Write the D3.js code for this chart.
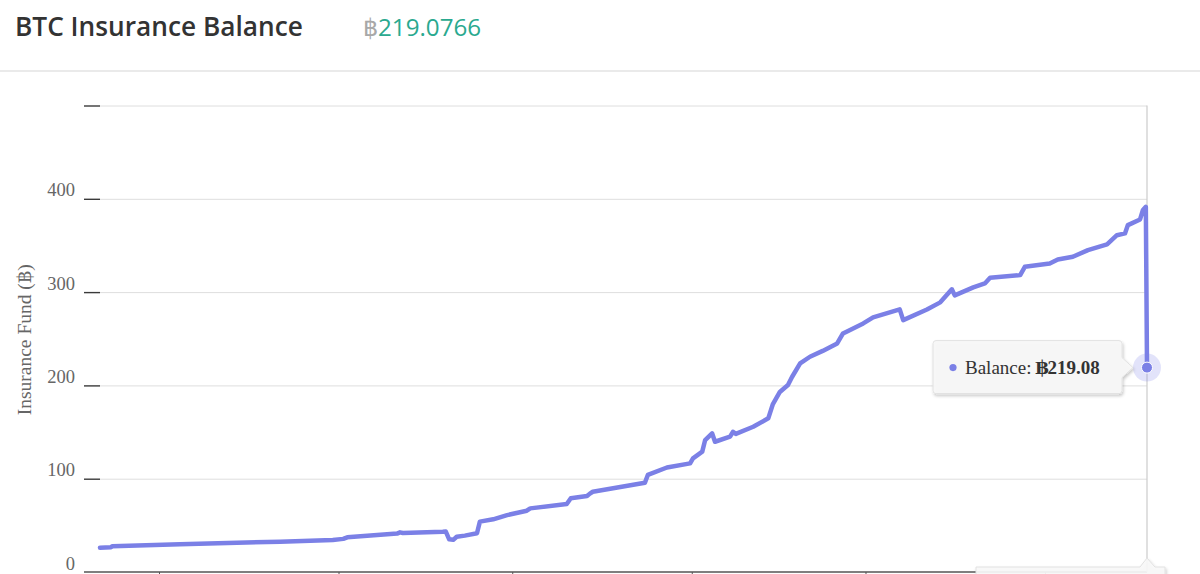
<!DOCTYPE html>
<html>
<head>
<meta charset="utf-8">
<script src="https://cdn.jsdelivr.net/npm/d3@7"></script>
<style>
  html, body { margin: 0; padding: 0; background: #fff; overflow: hidden; }
  #vis svg { display: block; }
</style>
</head>
<body>
<div id="vis"></div>
<script>
//Chart values
var startDate = new Date(2016, 1, 19, 19, 30);
var dayOffsets = [0, 1.9, 2.1, 13.8, 31.1, 40.2, 42.0, 42.7, 51.3, 51.8, 52.3, 59.2, 59.7, 60.3, 61.0, 61.6,
  63.0, 65.1, 65.6, 67.9, 70.3, 73.7, 74.3, 80.6, 81.3, 84.1, 84.6, 85.1, 88.6, 94.1, 94.6, 97.9,
  101.9, 102.4, 104.0, 104.5, 105.7, 106.2, 108.8, 109.3, 109.8, 112.8, 115.4, 116.2, 117.4, 118.8,
  119.5, 120.9, 122.6, 124.8, 127.3, 128.3, 131.8, 133.5, 138.1, 138.7, 142.8, 145.1, 147.1, 147.6,
  150.8, 152.8, 153.7, 158.9, 159.7, 164.0, 165.4, 168.0, 170.6, 173.9, 175.6, 177.0, 177.5, 179.6,
  180.1, 180.6, 180.8];
var balances = [26.1, 26.5, 27.5, 29.7, 32.5, 34.3, 35.5, 37.2, 41.2, 42.5, 41.8, 43.2, 43.5, 35.0, 34.5, 37.8,
  39.0, 41.5, 54.0, 56.5, 61.0, 65.7, 68.2, 72.9, 79.0, 81.4, 84.0, 86.0, 89.7, 95.7, 104.0, 112.0,
  116.4, 121.8, 129.0, 141.4, 148.6, 139.6, 145.0, 150.3, 148.0, 155.7, 164.7, 180.0, 193.0, 200.4,
  209.0, 223.6, 230.7, 237.0, 245.0, 255.7, 266.4, 272.9, 281.5, 270.0, 281.4, 289.0, 303.0, 296.5,
  305.0, 309.3, 315.3, 318.2, 327.1, 330.7, 335.0, 337.9, 345.0, 351.1, 361.0, 362.9, 371.8, 377.9,
  388.0, 391.4, 219.08];
var xTickDates = ["2016-03-01", "2016-04-01", "2016-05-01", "2016-06-01", "2016-07-01", "2016-08-01"];
var yTicks = [0, 100, 200, 300, 400, 500];
var yTickLabels = ["0", "100", "200", "300", "400", ""];
var headerTitle = "BTC Insurance Balance";
var headerValue = "219.0766";
var tooltipLabel = "Balance: ";
var tooltipValue = "219.08";

var width = 1200, height = 574;
var plot = {left: 100, right: 1147, top: 105.5, bottom: 572};
var lineColor = "#7b80e6";
var serif = "'Liberation Serif', 'DejaVu Serif', serif";

var toDate = function(d) { return new Date(+startDate + d * 864e5); };
var data = dayOffsets.map(function(d, i) { return {date: toDate(d), value: balances[i]}; });

var svgCanvas = d3.select("#vis")
  .append("svg")
  .attr("width", width)
  .attr("height", height);

var defs = svgCanvas.append("defs");
var shadow = defs.append("filter").attr("id", "shadow")
  .attr("x", "-10%").attr("y", "-20%").attr("width", "130%").attr("height", "160%");
shadow.append("feDropShadow").attr("dx", 1).attr("dy", 2).attr("stdDeviation", 1.6)
  .attr("flood-color", "#000").attr("flood-opacity", 0.22);

//Header
var title = svgCanvas.append("text")
  .attr("x", 15).attr("y", 36)
  .attr("font-family", "'Open Sans', 'Noto Sans', sans-serif")
  .attr("font-weight", 600)
  .attr("font-size", 26)
  .attr("fill", "#333")
  .text(headerTitle);
var tw = title.node().getComputedTextLength();
title.attr("font-size", 26 * 288 / tw);

var val = svgCanvas.append("text")
  .attr("x", 363).attr("y", 36)
  .attr("font-family", "'Open Sans', 'Noto Sans', sans-serif")
  .attr("font-size", 26);
val.append("tspan").attr("fill", "#a8a8a8").text("฿");
val.append("tspan").attr("fill", "#2aa98f").text(headerValue);
var vw = val.node().getComputedTextLength();
val.attr("font-size", 26 * 119 / vw);

svgCanvas.append("line")
  .attr("x1", 0).attr("x2", width)
  .attr("y1", 71).attr("y2", 71)
  .attr("stroke", "#e3e3e3").attr("stroke-width", 1.5);

//Scales
var x = d3.scaleTime()
  .domain([data[0].date, data[data.length - 1].date])
  .range([plot.left, plot.right]);
var y = d3.scaleLinear()
  .domain([0, 500])
  .range([plot.bottom, plot.top]);

//Gridlines
svgCanvas.append("g")
  .attr("transform", "translate(" + plot.left + ",0)")
  .call(d3.axisLeft(y).tickValues(yTicks.slice(1)).tickSize(-(plot.right - plot.left)).tickFormat(""))
  .call(function(g) {
    g.select(".domain").remove();
    g.selectAll(".tick line").attr("stroke", "#dedede");
  });

//Y axis: short ticks and labels
svgCanvas.append("g")
  .attr("transform", "translate(" + plot.left + ",0)")
  .call(d3.axisLeft(y).tickValues(yTicks).tickSize(16).tickPadding(9)
    .tickFormat(function(d, i) { return yTickLabels[i]; }))
  .call(function(g) {
    g.select(".domain").remove();
    g.selectAll(".tick line").attr("stroke", "#3a3a3a").attr("stroke-width", 1.4)
      .filter(function(d) { return d === 0; }).remove();
    g.selectAll(".tick text")
      .attr("dy", -3)
      .attr("fill", "#666")
      .attr("font-family", serif)
      .attr("font-size", 18.5);
  });

svgCanvas.append("text")
  .attr("transform", "translate(31," + ((plot.top + plot.bottom) / 2 + 1) + ") rotate(-90)")
  .attr("text-anchor", "middle")
  .attr("font-family", serif)
  .attr("font-size", 19.5)
  .attr("fill", "#666")
  .text("Insurance Fund (฿)");

//X axis
var xAxis = svgCanvas.append("g")
  .attr("transform", "translate(0," + plot.bottom + ")")
  .call(d3.axisBottom(x).tickValues(xTickDates.map(function(s) { return d3.timeParse("%Y-%m-%d")(s); }))
    .tickSize(12).tickSizeOuter(0).tickFormat(""));
xAxis.select(".domain").remove();
xAxis.selectAll(".tick line").attr("stroke", "#555");
xAxis.append("line")
  .attr("x1", plot.left - 16).attr("x2", plot.right)
  .attr("stroke", "#555").attr("stroke-width", 1.4);

//Crosshair at hovered point
var last = data[data.length - 1];
var px = x(last.date), py = y(last.value);
svgCanvas.append("line")
  .attr("x1", px).attr("x2", px)
  .attr("y1", y(500)).attr("y2", y(0))
  .attr("stroke", "#cccccc").attr("stroke-width", 1.2);

//Balance line
var line = d3.line()
  .x(function(d) { return x(d.date); })
  .y(function(d) { return y(d.value); });
svgCanvas.append("path")
  .datum(data)
  .attr("d", line)
  .attr("fill", "none")
  .attr("stroke", lineColor)
  .attr("stroke-width", 4.5)
  .attr("stroke-linejoin", "round")
  .attr("stroke-linecap", "round");

//Hover marker
svgCanvas.append("circle").attr("cx", px).attr("cy", py).attr("r", 14)
  .attr("fill", lineColor).attr("fill-opacity", 0.22);
svgCanvas.append("circle").attr("cx", px).attr("cy", py).attr("r", 5.5)
  .attr("fill", lineColor).attr("stroke", "#fff").attr("stroke-width", 1);

//Tooltip box with pointer to the right
var tipX = px - 14, bx1 = tipX - 11, bx0 = bx1 - 189, by0 = py - 27, by1 = py + 26, r = 3;
var tipPath = d3.path();
tipPath.moveTo(bx0 + r, by0);
tipPath.lineTo(bx1 - r, by0);
tipPath.quadraticCurveTo(bx1, by0, bx1, by0 + r);
tipPath.lineTo(bx1, py - 10);
tipPath.lineTo(tipX, py);
tipPath.lineTo(bx1, py + 10);
tipPath.lineTo(bx1, by1 - r);
tipPath.quadraticCurveTo(bx1, by1, bx1 - r, by1);
tipPath.lineTo(bx0 + r, by1);
tipPath.quadraticCurveTo(bx0, by1, bx0, by1 - r);
tipPath.lineTo(bx0, by0 + r);
tipPath.quadraticCurveTo(bx0, by0, bx0 + r, by0);
tipPath.closePath();
svgCanvas.append("path")
  .attr("d", tipPath.toString())
  .attr("fill", "#f8f8f8").attr("fill-opacity", 0.95)
  .attr("stroke", "#e2e2e2").attr("stroke-width", 1)
  .attr("filter", "url(#shadow)");
svgCanvas.append("circle").attr("cx", bx0 + 20).attr("cy", py).attr("r", 3.6).attr("fill", lineColor);
var tipText = svgCanvas.append("text")
  .attr("x", bx0 + 32).attr("y", py + 6)
  .attr("font-family", serif).attr("font-size", 19).attr("fill", "#333");
tipText.append("tspan").text(tooltipLabel);
tipText.append("tspan").attr("font-weight", "bold").attr("font-family", "'DejaVu Serif', serif")
  .attr("font-size", 19).attr("dx", -1).text("฿");
tipText.append("tspan").attr("font-weight", "bold").attr("dx", -1).text(tooltipValue);

//X crosshair label, mostly below the visible area
var lx0 = px - 171, lx1 = px + 18, ly0 = plot.bottom - 5;
svgCanvas.append("path")
  .attr("d", "M" + lx0 + "," + (ly0 + 30) + "L" + lx0 + "," + ly0 + "L" + (px - 7) + "," + ly0 +
    "L" + px + "," + (ly0 - 9) + "L" + (px + 8) + "," + ly0 + "L" + lx1 + "," + ly0 + "L" + lx1 + "," + (ly0 + 30) + "Z")
  .attr("fill", "#f8f8f8").attr("fill-opacity", 0.92)
  .attr("stroke", "#e2e2e2").attr("stroke-width", 1)
  .attr("filter", "url(#shadow)");
</script>
</body>
</html>
